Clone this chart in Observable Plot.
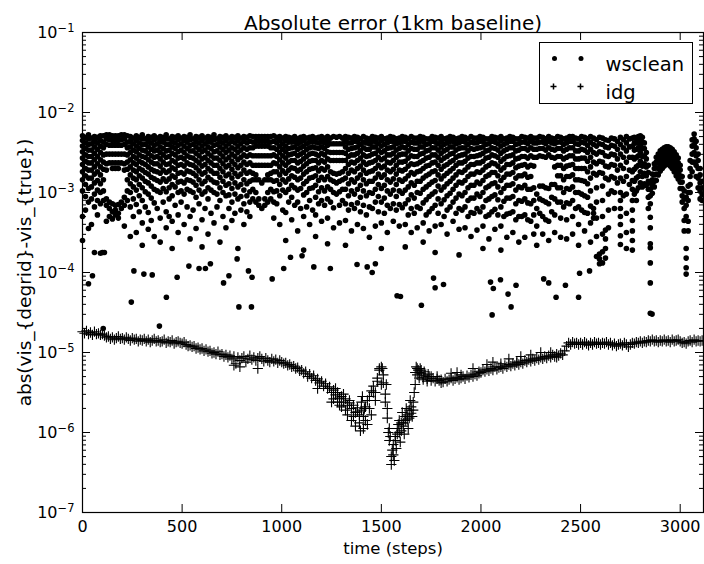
<!DOCTYPE html>
<html>
<head>
<meta charset="utf-8">
<script src="https://cdn.jsdelivr.net/npm/d3@7"></script>
<script src="https://cdn.jsdelivr.net/npm/@observablehq/plot@0.6"></script>
<style>
html,body{margin:0;padding:0;background:#fff;}
#wrap{position:relative;width:704px;height:564px;font-family:"DejaVu Sans",sans-serif;}
#legendBox{position:absolute;left:539px;top:42px;width:154px;height:62px;border:1.3px solid #000;box-sizing:border-box;pointer-events:none;}
</style>
</head>
<body>
<div id="wrap"><div id="legendBox"></div></div>
<script>
const title = "Absolute error (1km baseline)";
const xLabel = "time (steps)";
const yLabel = "abs(vis_{degrid}-vis_{true})";
const seriesNames = ["wsclean", "idg"];
const xTicks = [0, 500, 1000, 1500, 2000, 2500, 3000];
const yDecades = [-7, -6, -5, -4, -3, -2, -1];

// wsclean: columns of log10(error) values read per time step
const wsCols = [
[0,[-2.29,-2.35,-2.42,-2.49,-2.57,-2.65,-2.74,-2.84,-2.98,-3.30,-3.60]],
[15,[-2.31,-2.38,-2.45,-2.53,-2.61,-2.70,-2.79,-2.90,-3.05,-3.22]],
[30,[-2.28,-2.33,-2.40,-2.47,-2.55,-2.63,-2.72,-2.82,-2.95,-3.12,-3.45]],
[45,[-2.32,-2.39,-2.47,-2.55,-2.63,-2.72,-2.82,-2.93,-3.08,-3.40]],
[60,[-2.30,-2.36,-2.43,-2.51,-2.59,-2.68,-2.77,-2.88,-3.02,-3.18,-3.75]],
[75,[-2.31,-2.38,-2.46,-2.55,-2.64,-2.74,-2.85,-2.97,-3.10,-3.28]],
[90,[-2.29,-2.35,-2.42,-2.50,-2.59,-2.68,-2.78,-2.89,-3.00,-3.14,-3.76]],
[105,[-2.29,-2.37,-2.44,-2.53,-2.62,-2.71,-2.84,-2.98,-3.10]],
[120,[-2.28,-2.33,-2.40,-2.52,-2.64,-2.72,-3.08,-3.16,-3.36]],
[135,[-2.28,-2.34,-2.41,-2.52,-2.63,-3.12,-3.20,-3.30]],
[150,[-2.29,-2.35,-2.41,-2.52,-2.63,-2.70,-3.14,-3.24,-3.33]],
[165,[-2.29,-2.35,-2.41,-2.52,-2.63,-2.70,-3.16,-3.22,-3.28]],
[180,[-2.29,-2.35,-2.41,-2.52,-2.63,-2.70,-3.15,-3.26,-3.32]],
[195,[-2.28,-2.34,-2.41,-2.52,-2.63,-3.12,-3.20]],
[210,[-2.28,-2.33,-2.40,-2.52,-2.64,-2.72,-3.06,-3.16,-3.42]],
[225,[-2.29,-2.37,-2.44,-2.53,-2.62,-2.71,-2.84,-2.98,-3.10]],
[240,[-2.30,-2.36,-2.43,-2.50,-2.59,-2.68,-2.78,-2.89,-3.00,-3.18,-3.55]],
[255,[-2.32,-2.39,-2.47,-2.55,-2.63,-2.72,-2.82,-2.93,-3.08,-3.30]],
[270,[-2.29,-2.35,-2.42,-2.49,-2.57,-2.65,-2.74,-2.84,-2.97,-3.15,-3.50]],
[285,[-2.31,-2.38,-2.45,-2.53,-2.61,-2.70,-2.79,-2.90,-3.04,-3.24]],
[300,[-2.28,-2.33,-2.40,-2.47,-2.55,-2.63,-2.72,-2.82,-2.94,-3.10,-3.38,-3.66]],
[315,[-2.33,-2.40,-2.48,-2.56,-2.65,-2.75,-2.86,-2.99,-3.18]],
[330,[-2.30,-2.36,-2.43,-2.51,-2.59,-2.68,-2.77,-2.88,-3.02,-3.25,-3.46]],
[345,[-2.31,-2.38,-2.46,-2.54,-2.62,-2.71,-2.81,-2.92,-3.07,-3.35]],
[360,[-2.29,-2.34,-2.41,-2.48,-2.56,-2.64,-2.73,-2.83,-2.96,-3.13,-3.55]],
[375,[-2.32,-2.39,-2.47,-2.55,-2.64,-2.74,-2.85,-2.98,-3.20]],
[390,[-2.30,-2.36,-2.43,-2.50,-2.58,-2.67,-2.76,-2.87,-3.00,-3.32,-3.62]],
[405,[-2.31,-2.37,-2.45,-2.53,-2.62,-2.72,-2.83,-2.95,-3.12]],
[420,[-2.28,-2.33,-2.40,-2.48,-2.56,-2.65,-2.75,-2.86,-2.99,-3.24,-3.44]],
[435,[-2.33,-2.40,-2.47,-2.55,-2.64,-2.73,-2.83,-2.94,-3.08,-3.30]],
[450,[-2.30,-2.36,-2.43,-2.51,-2.60,-2.69,-2.79,-2.90,-3.04,-3.36,-3.70]],
[465,[-2.31,-2.38,-2.45,-2.53,-2.62,-2.71,-2.81,-2.93,-3.16]],
[480,[-2.29,-2.34,-2.41,-2.49,-2.57,-2.66,-2.76,-2.87,-3.00,-3.28,-3.50]],
[495,[-2.32,-2.39,-2.47,-2.56,-2.65,-2.75,-2.86,-2.98,-3.12]],
[510,[-2.30,-2.35,-2.42,-2.50,-2.58,-2.67,-2.77,-2.88,-3.02,-3.40]],
[525,[-2.31,-2.37,-2.45,-2.54,-2.63,-2.73,-2.84,-2.96,-3.18]],
[540,[-2.28,-2.34,-2.41,-2.48,-2.56,-2.65,-2.74,-2.85,-2.98,-3.30,-3.58]],
[555,[-2.33,-2.40,-2.48,-2.57,-2.66,-2.76,-2.87,-3.00,-3.22]],
[570,[-2.30,-2.36,-2.43,-2.51,-2.60,-2.69,-2.79,-2.91,-3.06,-3.45]],
[585,[-2.31,-2.38,-2.46,-2.54,-2.63,-2.73,-2.84,-2.97,-3.14]],
[600,[-2.29,-2.35,-2.42,-2.49,-2.58,-2.67,-2.77,-2.89,-3.02,-3.34,-3.68]],
[615,[-2.32,-2.39,-2.47,-2.56,-2.65,-2.75,-2.86,-2.99,-3.20]],
[630,[-2.30,-2.36,-2.43,-2.51,-2.60,-2.70,-2.81,-2.94,-3.08,-3.52]],
[645,[-2.31,-2.37,-2.45,-2.54,-2.63,-2.73,-2.84,-2.97,-3.26]],
[660,[-2.28,-2.34,-2.41,-2.49,-2.57,-2.66,-2.76,-2.87,-3.00,-3.38]],
[675,[-2.33,-2.40,-2.48,-2.57,-2.66,-2.76,-2.88,-3.02,-3.18]],
[690,[-2.30,-2.36,-2.43,-2.51,-2.60,-2.70,-2.81,-2.94,-3.10,-3.62]],
[705,[-2.31,-2.38,-2.46,-2.55,-2.64,-2.74,-2.86,-3.00,-3.30]],
[720,[-2.29,-2.35,-2.42,-2.50,-2.59,-2.68,-2.79,-2.91,-3.04,-3.44]],
[735,[-2.32,-2.39,-2.47,-2.56,-2.66,-2.77,-2.89,-3.03,-3.20]],
[750,[-2.30,-2.36,-2.44,-2.52,-2.61,-2.71,-2.82,-2.95,-3.12,-3.35]],
[765,[-2.31,-2.38,-2.46,-2.55,-2.65,-2.76,-2.88,-3.02,-3.26]],
[780,[-2.29,-2.35,-2.42,-2.50,-2.59,-2.69,-2.80,-2.93,-3.08,-3.70]],
[795,[-2.32,-2.39,-2.47,-2.56,-2.66,-2.77,-2.90,-3.05,-3.22]],
[810,[-2.30,-2.36,-2.44,-2.53,-2.62,-2.72,-2.84,-2.97,-3.14,-3.40]],
[825,[-2.31,-2.38,-2.46,-2.55,-2.65,-2.76,-2.89,-3.04,-3.24]],
[840,[-2.29,-2.36,-2.44,-2.53,-2.63,-2.74,-2.86,-2.99,-3.12,-3.30]],
[855,[-2.30,-2.37,-2.44,-2.54,-2.66,-2.76,-2.84,-2.96,-3.08]],
[870,[-2.30,-2.36,-2.42,-2.54,-2.66,-2.78,-2.84,-3.00,-3.12]],
[885,[-2.30,-2.36,-2.42,-2.54,-2.66,-2.84,-3.08,-3.16]],
[900,[-2.30,-2.36,-2.42,-2.54,-2.66,-2.88,-3.20]],
[915,[-2.30,-2.36,-2.42,-2.54,-2.66,-2.84,-3.08,-3.16]],
[930,[-2.30,-2.36,-2.42,-2.54,-2.66,-2.78,-2.84,-3.00,-3.12]],
[945,[-2.30,-2.37,-2.44,-2.54,-2.66,-2.76,-2.84,-2.96,-3.08]],
[960,[-2.29,-2.36,-2.44,-2.53,-2.63,-2.74,-2.86,-2.99,-3.12,-3.32]],
[975,[-2.31,-2.38,-2.46,-2.55,-2.64,-2.74,-2.85,-2.98,-3.14]],
[990,[-2.30,-2.35,-2.42,-2.50,-2.59,-2.68,-2.78,-2.90,-3.04,-3.40]],
[1005,[-2.32,-2.39,-2.46,-2.54,-2.63,-2.73,-2.84,-2.97,-3.22]],
[1020,[-2.30,-2.35,-2.42,-2.49,-2.57,-2.66,-2.76,-2.87,-3.00,-3.25,-3.60]],
[1035,[-2.31,-2.37,-2.45,-2.53,-2.62,-2.72,-2.83,-2.96,-3.12]],
[1050,[-2.32,-2.37,-2.44,-2.52,-2.60,-2.69,-2.79,-2.91,-3.06,-3.34]],
[1065,[-2.30,-2.36,-2.43,-2.51,-2.60,-2.70,-2.81,-2.94,-3.16]],
[1080,[-2.33,-2.39,-2.46,-2.54,-2.63,-2.73,-2.84,-2.97,-3.12,-3.48]],
[1095,[-2.31,-2.37,-2.44,-2.52,-2.61,-2.71,-2.82,-2.95,-3.20]],
[1110,[-2.30,-2.35,-2.42,-2.50,-2.58,-2.67,-2.77,-2.89,-3.03,-3.30,-3.72]],
[1125,[-2.32,-2.39,-2.46,-2.55,-2.64,-2.74,-2.86,-3.00,-3.18]],
[1140,[-2.31,-2.37,-2.44,-2.52,-2.61,-2.71,-2.82,-2.95,-3.10,-3.40]],
[1155,[-2.30,-2.36,-2.43,-2.51,-2.60,-2.70,-2.81,-2.94,-3.22]],
[1170,[-2.32,-2.37,-2.44,-2.52,-2.60,-2.69,-2.79,-2.91,-3.06,-3.28,-3.55]],
[1185,[-2.31,-2.38,-2.45,-2.54,-2.63,-2.73,-2.85,-2.99,-3.14]],
[1200,[-2.30,-2.36,-2.43,-2.51,-2.60,-2.70,-2.81,-2.94,-3.10,-3.36]],
[1215,[-2.32,-2.38,-2.45,-2.53,-2.62,-2.72,-2.84,-2.98,-3.16]],
[1230,[-2.30,-2.35,-2.41,-2.49,-2.58,-2.68,-2.80,-2.93,-3.08,-3.32,-3.64]],
[1245,[-2.32,-2.39,-2.50,-2.60,-2.74,-2.84,-2.96,-3.12]],
[1260,[-2.30,-2.39,-2.50,-2.60,-2.76,-2.86,-3.00,-3.19,-3.44]],
[1275,[-2.31,-2.39,-2.50,-2.60,-2.77,-2.88,-3.02]],
[1290,[-2.30,-2.39,-2.50,-2.60,-2.76,-2.86,-2.99,-3.16,-3.38]],
[1305,[-2.32,-2.39,-2.50,-2.60,-2.74,-2.84,-2.96,-3.10]],
[1320,[-2.30,-2.36,-2.43,-2.51,-2.60,-2.70,-2.82,-2.96,-3.14,-3.35,-3.66]],
[1335,[-2.31,-2.38,-2.46,-2.55,-2.65,-2.76,-2.89,-3.04,-3.22]],
[1350,[-2.32,-2.38,-2.45,-2.53,-2.62,-2.72,-2.84,-2.98,-3.15,-3.48]],
[1365,[-2.30,-2.36,-2.44,-2.53,-2.63,-2.74,-2.87,-3.02,-3.20]],
[1380,[-2.31,-2.36,-2.43,-2.51,-2.60,-2.70,-2.82,-2.96,-3.13,-3.40]],
[1395,[-2.33,-2.40,-2.48,-2.57,-2.67,-2.78,-2.91,-3.06,-3.24]],
[1410,[-2.30,-2.37,-2.44,-2.53,-2.62,-2.72,-2.84,-2.98,-3.16,-3.45]],
[1425,[-2.32,-2.38,-2.46,-2.55,-2.65,-2.76,-2.89,-3.04,-3.28]],
[1440,[-2.33,-2.39,-2.46,-2.54,-2.63,-2.74,-2.86,-3.00,-3.18,-3.56]],
[1455,[-2.30,-2.36,-2.43,-2.52,-2.62,-2.73,-2.86,-3.01,-3.20]],
[1470,[-2.31,-2.36,-2.43,-2.51,-2.60,-2.70,-2.82,-2.96,-3.12,-3.42]],
[1485,[-2.32,-2.39,-2.47,-2.56,-2.66,-2.77,-2.90,-3.05,-3.24]],
[1500,[-2.30,-2.35,-2.42,-2.50,-2.59,-2.69,-2.81,-2.95,-3.12,-3.38,-3.70]],
[1515,[-2.33,-2.40,-2.48,-2.57,-2.67,-2.78,-2.91,-3.07,-3.26]],
[1530,[-2.32,-2.38,-2.45,-2.53,-2.62,-2.72,-2.84,-2.98,-3.16,-3.50]],
[1545,[-2.30,-2.36,-2.44,-2.53,-2.63,-2.74,-2.87,-3.02,-3.20]],
[1560,[-2.31,-2.36,-2.43,-2.51,-2.60,-2.71,-2.83,-2.97,-3.14,-3.36]],
[1575,[-2.33,-2.39,-2.47,-2.56,-2.66,-2.77,-2.90,-3.05,-3.22]],
[1590,[-2.32,-2.38,-2.45,-2.53,-2.62,-2.72,-2.84,-2.98,-3.15,-3.42]],
[1605,[-2.30,-2.36,-2.43,-2.52,-2.62,-2.73,-2.86,-3.01,-3.19]],
[1620,[-2.31,-2.36,-2.44,-2.52,-2.61,-2.71,-2.83,-2.97,-3.14,-3.40,-3.68]],
[1635,[-2.33,-2.40,-2.48,-2.57,-2.67,-2.79,-2.93,-3.09,-3.28]],
[1650,[-2.30,-2.37,-2.45,-2.54,-2.64,-2.75,-2.88,-3.03,-3.20,-3.50]],
[1665,[-2.32,-2.38,-2.46,-2.55,-2.65,-2.77,-2.91,-3.07,-3.26]],
[1680,[-2.32,-2.38,-2.46,-2.55,-2.64,-2.74,-2.86,-3.00,-3.18,-3.44]],
[1695,[-2.30,-2.36,-2.43,-2.52,-2.62,-2.73,-2.86,-3.01,-3.20]],
[1710,[-2.31,-2.36,-2.43,-2.51,-2.60,-2.70,-2.82,-2.96,-3.13,-3.38,-3.62]],
[1725,[-2.33,-2.40,-2.48,-2.57,-2.67,-2.79,-2.93,-3.09,-3.28]],
[1740,[-2.33,-2.39,-2.47,-2.56,-2.66,-2.77,-2.90,-3.05,-3.24,-3.48]],
[1755,[-2.30,-2.36,-2.44,-2.53,-2.63,-2.74,-2.87,-3.02,-3.20]],
[1770,[-2.31,-2.37,-2.44,-2.53,-2.62,-2.73,-2.85,-2.99,-3.16,-3.42,-3.75]],
[1785,[-2.32,-2.39,-2.47,-2.56,-2.66,-2.78,-2.92,-3.08,-3.26]],
[1800,[-2.30,-2.36,-2.43,-2.51,-2.60,-2.71,-2.83,-2.97,-3.14,-3.40]],
[1815,[-2.33,-2.40,-2.48,-2.57,-2.67,-2.79,-2.93,-3.09,-3.30]],
[1830,[-2.32,-2.38,-2.46,-2.55,-2.65,-2.76,-2.89,-3.04,-3.22,-3.52]],
[1845,[-2.30,-2.36,-2.43,-2.52,-2.62,-2.73,-2.86,-3.01,-3.18]],
[1860,[-2.31,-2.36,-2.43,-2.51,-2.60,-2.70,-2.82,-2.96,-3.12,-3.36]],
[1875,[-2.33,-2.39,-2.47,-2.56,-2.66,-2.78,-2.91,-3.07,-3.26]],
[1890,[-2.32,-2.38,-2.45,-2.54,-2.63,-2.74,-2.87,-3.02,-3.20,-3.46,-3.78]],
[1905,[-2.30,-2.36,-2.44,-2.53,-2.63,-2.75,-2.88,-3.04,-3.22]],
[1920,[-2.31,-2.37,-2.44,-2.52,-2.61,-2.72,-2.85,-3.00,-3.18,-3.44]],
[1935,[-2.33,-2.40,-2.48,-2.57,-2.68,-2.80,-2.94,-3.10,-3.30]],
[1950,[-2.30,-2.37,-2.45,-2.55,-2.65,-2.77,-2.91,-3.07,-3.25,-3.55]],
[1965,[-2.32,-2.38,-2.46,-2.55,-2.65,-2.77,-2.91,-3.07,-3.26]],
[1980,[-2.32,-2.38,-2.45,-2.54,-2.63,-2.74,-2.87,-3.02,-3.20,-3.47]],
[1995,[-2.30,-2.36,-2.44,-2.53,-2.63,-2.75,-2.89,-3.05,-3.24]],
[2010,[-2.31,-2.36,-2.43,-2.51,-2.61,-2.72,-2.85,-3.00,-3.18,-3.42,-3.70]],
[2025,[-2.33,-2.40,-2.48,-2.57,-2.68,-2.80,-2.94,-3.10,-3.30]],
[2040,[-2.33,-2.39,-2.47,-2.56,-2.66,-2.78,-2.92,-3.08,-3.28,-3.58]],
[2055,[-2.30,-2.36,-2.44,-2.53,-2.63,-2.75,-2.89,-3.05,-3.24]],
[2070,[-2.31,-2.37,-2.45,-2.54,-2.64,-2.75,-2.88,-3.03,-3.21,-3.46]],
[2085,[-2.32,-2.39,-2.47,-2.56,-2.67,-2.79,-2.93,-3.09,-3.28]],
[2100,[-2.30,-2.35,-2.42,-2.51,-2.61,-2.72,-2.85,-3.00,-3.18,-3.42,-3.72]],
[2115,[-2.33,-2.40,-2.48,-2.58,-2.69,-2.81,-2.95,-3.11,-3.30]],
[2130,[-2.32,-2.38,-2.46,-2.55,-2.65,-2.77,-2.91,-3.07,-3.27,-3.56]],
[2145,[-2.30,-2.36,-2.44,-2.54,-2.65,-2.77,-2.91,-3.07,-3.26]],
[2160,[-2.31,-2.36,-2.44,-2.53,-2.63,-2.75,-2.89,-3.05,-3.24,-3.50]],
[2175,[-2.33,-2.40,-2.48,-2.58,-2.69,-2.82,-2.97,-3.14,-3.34]],
[2190,[-2.33,-2.39,-2.47,-2.57,-2.67,-2.79,-2.93,-3.10,-3.30,-3.62]],
[2205,[-2.30,-2.37,-2.45,-2.55,-2.66,-2.79,-2.94,-3.11,-3.30]],
[2220,[-2.31,-2.37,-2.45,-2.55,-2.65,-2.77,-2.91,-3.08,-3.28,-3.56]],
[2235,[-2.32,-2.39,-2.47,-2.57,-2.68,-2.81,-2.96,-3.13,-3.34]],
[2250,[-2.30,-2.36,-2.44,-2.54,-2.66,-2.80,-2.96,-3.14,-3.36]],
[2265,[-2.32,-2.38,-2.46,-2.56,-2.67,-2.94,-3.10,-3.28,-3.52]],
[2280,[-2.32,-2.38,-2.46,-2.56,-3.02,-3.20,-3.42,-3.66]],
[2295,[-2.30,-2.37,-2.45,-2.54,-2.92,-3.08,-3.26]],
[2310,[-2.31,-2.37,-2.45,-2.55,-2.92,-3.10,-3.30,-3.52]],
[2325,[-2.33,-2.39,-2.47,-2.56,-2.94,-3.12,-3.34]],
[2340,[-2.30,-2.36,-2.44,-2.53,-2.95,-3.14,-3.36,-3.60]],
[2355,[-2.32,-2.38,-2.46,-2.56,-2.90,-3.06,-3.24]],
[2370,[-2.33,-2.39,-2.47,-2.57,-2.68,-2.90,-3.08,-3.28,-3.50]],
[2385,[-2.30,-2.37,-2.45,-2.55,-2.66,-2.79,-2.94,-3.12]],
[2400,[-2.31,-2.37,-2.45,-2.55,-2.66,-2.79,-2.94,-3.12,-3.32,-3.56]],
[2415,[-2.33,-2.40,-2.48,-2.58,-2.70,-2.84,-3.00,-3.18]],
[2430,[-2.32,-2.38,-2.46,-2.56,-2.67,-2.80,-2.95,-3.13,-3.34,-3.58]],
[2445,[-2.30,-2.36,-2.44,-2.54,-2.66,-2.80,-2.96,-3.14]],
[2460,[-2.30,-2.36,-2.44,-2.54,-2.65,-2.78,-2.93,-3.10,-3.30,-3.52]],
[2475,[-2.32,-2.39,-2.48,-2.58,-2.70,-2.84,-3.00,-3.20]],
[2490,[-2.33,-2.40,-2.48,-2.58,-2.70,-2.84,-3.00,-3.18,-3.40,-3.66]],
[2505,[-2.30,-2.37,-2.46,-2.57,-2.70,-2.85,-3.02,-3.22]],
[2520,[-2.31,-2.38,-2.47,-2.57,-2.70,-2.86,-3.04,-3.25,-3.48]],
[2535,[-2.33,-2.41,-2.50,-2.61,-2.74,-2.89,-3.06,-3.26]],
[2550,[-2.30,-2.37,-2.46,-2.56,-2.68,-2.82,-2.98,-3.17,-3.38,-3.62]],
[2565,[-2.32,-2.40,-2.50,-2.62,-2.76,-3.20,-3.26,-3.32]],
[2580,[-2.34,-2.42,-2.52,-2.64,-2.78,-2.94,-3.12,-3.32,-3.55,-3.80]],
[2595,[-2.31,-2.39,-2.49,-2.61,-2.75,-3.77,-3.83,-3.89]],
[2610,[-2.32,-2.40,-2.50,-2.62,-2.76,-2.92,-3.10,-3.30,-3.52,-3.74,-3.88]],
[2625,[-2.34,-2.43,-2.54,-2.67,-2.82,-3.47,-3.58,-3.70,-3.82]],
[2640,[-2.35,-2.44,-2.55,-2.68,-2.84,-3.02,-3.22,-3.44]],
[2655,[-2.32,-2.41,-2.52,-2.65,-2.80,-2.98]],
[2670,[-2.33,-2.42,-2.53,-2.66,-2.82,-3.00,-3.20]],
[2685,[-2.36,-2.46,-2.58,-2.72,-2.88]],
[2700,[-2.31,-2.40,-2.52,-2.66,-2.82,-3.00,-3.10,-3.20,-3.30,-3.40,-3.54,-3.65]],
[2715,[-2.34,-2.44,-2.56,-2.70,-2.86,-3.04]],
[2730,[-2.30,-2.38,-2.48,-2.62,-2.80,-3.02,-3.26,-3.50,-3.70]],
[2745,[-2.33,-2.43,-2.56,-2.72,-2.90]],
[2760,[-2.32,-2.42,-2.56,-2.74,-2.85,-2.96,-3.10,-3.22,-3.35,-3.48,-3.60,-3.72]],
[2770,[-2.31,-2.38,-2.47,-2.58,-2.71,-2.86,-3.02]],
[2780,[-2.32,-2.38,-2.46,-2.56,-2.68,-2.82,-2.98,-3.10]],
[2790,[-2.30,-2.36,-2.44,-2.54,-2.66,-2.80,-2.94]],
[2800,[-2.29,-2.34,-2.41,-2.50,-2.61,-2.74,-2.88]],
[2810,[-2.31,-2.37,-2.45,-2.55,-2.67,-2.80,-2.93]],
[2820,[-2.38,-2.45,-2.54,-2.64,-2.76,-2.89]],
[2830,[-2.50,-2.58,-2.68,-2.79,-2.91]],
[2840,[-2.66,-2.75,-2.86,-2.96,-3.06,-3.20]],
[2850,[-2.88,-2.96,-3.04,-3.14,-3.31,-3.44,-3.64,-3.69,-3.88,-4.13,-4.51]],
[2860,[-2.77,-2.84,-2.92,-3.01]],
[2870,[-2.64,-2.70,-2.78,-2.86,-2.93]],
[2880,[-2.56,-2.62,-2.69,-2.77,-2.85]],
[2890,[-2.52,-2.57,-2.63,-2.70,-2.78]],
[2900,[-2.48,-2.53,-2.59,-2.66,-2.73]],
[2910,[-2.46,-2.51,-2.57,-2.63,-2.70]],
[2920,[-2.44,-2.49,-2.55,-2.61,-2.67]],
[2930,[-2.43,-2.48,-2.54,-2.60,-2.65]],
[2940,[-2.43,-2.48,-2.54,-2.59,-2.65]],
[2950,[-2.44,-2.49,-2.55,-2.61,-2.67]],
[2960,[-2.46,-2.51,-2.57,-2.63,-2.70]],
[2970,[-2.49,-2.54,-2.60,-2.67,-2.74]],
[2980,[-2.53,-2.58,-2.64,-2.71,-2.79]],
[2990,[-2.57,-2.63,-2.69,-2.76,-2.83]],
[3000,[-2.66,-2.72,-2.79,-2.87,-2.95]],
[3010,[-2.80,-2.87,-2.95,-3.04,-3.12]],
[3020,[-2.98,-3.08,-3.20,-3.35,-3.48]],
[3030,[-3.06,-3.16,-3.30,-3.70,-3.82,-3.94,-4.02]],
[3040,[-2.92,-3.00,-3.10,-3.36,-3.48]],
[3050,[-2.60,-2.70,-2.80,-2.90,-3.00]],
[3060,[-2.34,-2.42,-2.52,-2.62,-2.74]],
[3070,[-2.27,-2.33,-2.40,-2.50,-2.62]],
[3080,[-2.36,-2.44,-2.54,-2.66,-2.80]],
[3090,[-2.52,-2.60,-2.70,-2.82,-2.94]],
[3100,[-2.70,-2.78,-2.88,-2.98,-3.08]],
[3110,[-2.86,-2.94,-3.02,-3.10]]
];
// wsclean: isolated low points [time, log10(error)]
const wsLow = [[30,-4.14],[50,-4.04],[104,-4.70],[100,-3.75],[110,-3.75],[245,-4.37],[258,-3.98],[308,-4.02],[350,-4.03],[386,-4.67],[421,-4.31],[475,-4.06],[534,-3.92],[585,-3.95],[617,-3.95],[642,-3.89],[708,-4.13],[735,-4.04],[776,-3.83],[785,-4.43],[833,-3.98],[848,-4.43],[851,-4.06],[952,-4.08],[1010,-3.95],[1044,-3.81],[1102,-3.79],[1161,-3.93],[1244,-3.95],[1378,-3.90],[1429,-3.93],[1454,-4.00],[1470,-3.89],[1579,-4.29],[1596,-4.30],[1701,-4.41],[1762,-4.07],[1770,-4.19],[1812,-4.15],[2048,-4.12],[2056,-4.53],[2062,-4.20],[2098,-4.09],[2136,-4.27],[2151,-4.43],[2176,-4.16],[2315,-4.08],[2340,-4.13],[2377,-4.31],[2424,-4.16],[2490,-4.31],[2495,-4.01],[2545,-3.98],[2859,-4.52]];

// idg: log10(error) every idgStep time steps starting at 0
const idgStep = 10;
const idgLog = [
-4.74,-4.76,-4.73,-4.77,-4.75,-4.78,-4.74,-4.77,-4.76,-4.78,
-4.77,-4.79,-4.81,-4.80,-4.83,-4.81,-4.84,-4.82,-4.80,-4.83,
-4.82,-4.84,-4.81,-4.83,-4.85,-4.82,-4.84,-4.83,-4.86,-4.84,
-4.85,-4.83,-4.86,-4.84,-4.87,-4.85,-4.83,-4.86,-4.85,-4.87,
-4.86,-4.84,-4.88,-4.86,-4.87,-4.85,-4.89,-4.87,-4.86,-4.88,
-4.89,-4.87,-4.90,-4.92,-4.91,-4.93,-4.92,-4.95,-4.94,-4.96,
-4.95,-4.98,-4.96,-4.99,-4.98,-5.01,-5.00,-5.02,-4.99,-5.03,
-5.02,-5.05,-5.03,-5.06,-5.04,-5.08,-5.05,-5.14,-5.06,-5.10,
-5.07,-5.05,-5.12,-5.08,-5.04,-5.09,-5.06,-5.10,-5.07,-5.05,
-5.08,-5.11,-5.07,-5.10,-5.12,-5.08,-5.11,-5.09,-5.13,-5.10,
-5.12,-5.14,-5.13,-5.16,-5.15,-5.18,-5.17,-5.20,-5.19,-5.23,
-5.22,-5.26,-5.24,-5.30,-5.27,-5.32,-5.29,-5.35,-5.33,-5.38,
-5.36,-5.42,-5.39,-5.45,-5.43,-5.50,-5.47,-5.53,-5.50,-5.57,
-5.55,-5.62,-5.58,-5.66,-5.63,-5.70,-5.66,-5.75,-5.69,-5.78,
-5.72,-5.80,-5.68,-5.60,-5.55,-5.48,-5.42,-5.50,-5.36,-5.22,
-5.18,-5.38,-5.52,-5.70,-5.95,-6.30,-6.15,-6.05,-5.95,-6.00,
-5.88,-5.92,-5.80,-5.84,-5.72,-5.76,-5.62,-5.25,-5.28,-5.32,
-5.26,-5.31,-5.29,-5.33,-5.30,-5.35,-5.32,-5.36,-5.33,-5.35,
-5.34,-5.37,-5.33,-5.36,-5.34,-5.32,-5.35,-5.33,-5.31,-5.34,
-5.32,-5.30,-5.33,-5.29,-5.31,-5.28,-5.30,-5.27,-5.29,-5.26,
-5.25,-5.22,-5.24,-5.21,-5.23,-5.20,-5.22,-5.18,-5.21,-5.19,
-5.18,-5.20,-5.16,-5.18,-5.15,-5.17,-5.14,-5.16,-5.13,-5.15,
-5.12,-5.14,-5.10,-5.12,-5.09,-5.11,-5.08,-5.10,-5.07,-5.09,
-5.06,-5.08,-5.05,-5.07,-5.04,-5.06,-5.03,-5.05,-5.02,-5.04,
-5.01,-5.03,-4.98,-4.92,-4.88,-4.90,-4.87,-4.89,-4.88,-4.90,
-4.88,-4.90,-4.87,-4.89,-4.91,-4.88,-4.90,-4.87,-4.89,-4.88,
-4.90,-4.88,-4.89,-4.87,-4.90,-4.88,-4.91,-4.89,-4.92,-4.90,
-4.89,-4.91,-4.88,-4.90,-4.93,-4.90,-4.88,-4.89,-4.87,-4.88,
-4.86,-4.88,-4.86,-4.87,-4.85,-4.86,-4.84,-4.86,-4.85,-4.87,
-4.85,-4.86,-4.84,-4.86,-4.85,-4.87,-4.84,-4.86,-4.85,-4.84,
-4.86,-4.88,-4.87,-4.89,-4.86,-4.85,-4.87,-4.84,-4.86,-4.85,
-4.86,-4.85
];
// idg: extra scattered points [time, log10(error)]
const idgExtra = [[760,-5.16],[790,-5.18],[880,-5.20],[1180,-5.45],[1250,-5.62],[1260,-5.58],[1270,-5.45],[1280,-5.62],[1290,-5.66],[1300,-5.68],[1310,-5.52],[1320,-5.72],[1330,-5.78],[1340,-5.60],[1350,-5.85],[1360,-5.80],[1370,-5.92],[1380,-5.74],[1390,-5.88],[1395,-5.98],[1400,-5.62],[1405,-5.55],[1410,-5.95],[1415,-5.70],[1420,-5.85],[1430,-5.90],[1440,-5.70],[1450,-5.78],[1460,-5.50],[1470,-5.60],[1480,-5.32],[1490,-5.20],[1500,-5.40],[1505,-5.20],[1510,-5.28],[1520,-5.62],[1525,-5.40],[1530,-5.82],[1535,-6.00],[1540,-6.10],[1545,-6.05],[1550,-6.40],[1555,-6.22],[1560,-6.28],[1565,-6.35],[1570,-6.10],[1575,-6.20],[1580,-6.02],[1585,-5.90],[1590,-5.85],[1595,-6.12],[1600,-5.98],[1605,-5.75],[1610,-5.88],[1615,-6.02],[1620,-5.85],[1625,-5.70],[1630,-5.78],[1635,-5.95],[1640,-5.82],[1645,-5.60],[1650,-5.68],[1655,-5.80],[1660,-5.72],[1665,-5.50],[1670,-5.40],[1675,-5.18],[1680,-5.20],[1685,-5.22],[1690,-5.25],[1695,-5.20],[1700,-5.22],[1710,-5.34],[1715,-5.24],[1730,-5.36],[1735,-5.27],[1750,-5.30],[1780,-5.30],[1800,-5.38],[1850,-5.26],[1880,-5.25],[1900,-5.28],[1960,-5.20],[1990,-5.24],[2030,-5.15],[2060,-5.12],[2100,-5.14],[2140,-5.08],[2180,-5.12],[2200,-5.05],[2250,-5.03],[2300,-5.00],[2350,-5.00],[2380,-5.06]];

const wsclean = [
  ...wsCols.flatMap(([t, Ls]) => Ls.map(L => ({t, v: Math.pow(10, L)}))),
  ...wsLow.map(([t, L]) => ({t, v: Math.pow(10, L)}))
];
const idg = [
  ...idgLog.map((L, i) => ({t: i * idgStep, v: Math.pow(10, L)})),
  ...idgExtra.map(([t, L]) => ({t, v: Math.pow(10, L)}))
];

const yMajor = yDecades.map(e => Math.pow(10, e));
const yMinor = yDecades.slice(0, -1).flatMap(e => [2,3,4,5,6,7,8,9].map(k => k * Math.pow(10, e)));

const W = 704, H = 564, mL = 82, mR = 1, mT = 32, mB = 52;
const fw = W - mL - mR, fh = H - mT - mB;
const major = 8, minor = 4;

const chart = Plot.plot({
  width: W, height: H,
  marginLeft: mL, marginRight: mR, marginTop: mT, marginBottom: mB,
  style: {fontFamily: "DejaVu Sans", fontSize: "16px", color: "black", background: "white"},
  x: {domain: [0, 3117]},
  y: {type: "log", domain: [1e-7, 1e-1]},
  marks: [
    Plot.dot(wsclean, {x: "t", y: "v", r: 2.8, fill: "black", stroke: "none"}),
    Plot.dot(idg, {x: "t", y: "v", symbol: "plus", r: 3.4, stroke: "black", strokeWidth: 1.1}),
    Plot.frame({stroke: "black", strokeWidth: 1.2}),
    Plot.tickX(xTicks, {x: d => d, insetTop: fh - major, stroke: "black"}),
    Plot.tickX(xTicks, {x: d => d, insetBottom: fh - major, stroke: "black"}),
    Plot.tickY(yMajor, {y: d => d, insetRight: fw - major, stroke: "black"}),
    Plot.tickY(yMajor, {y: d => d, insetLeft: fw - major, stroke: "black"}),
    Plot.tickY(yMinor, {y: d => d, insetRight: fw - minor, stroke: "black"}),
    Plot.tickY(yMinor, {y: d => d, insetLeft: fw - minor, stroke: "black"}),
    Plot.axisX({ticks: xTicks, tickSize: 0, tickPadding: 8, tickFormat: d => String(d), fontSize: 16, label: null}),
    Plot.axisY({ticks: yMajor, tickSize: 0, tickPadding: 8, tickFormat: d => String(Math.round(Math.log10(d))), fontSize: 16, label: null}),
    Plot.text([title], {frameAnchor: "top", dy: -17, fontSize: 20}),
    Plot.text([xLabel], {frameAnchor: "bottom", dy: 41, fontSize: 16.5}),
    Plot.text([yLabel], {frameAnchor: "left", dx: -57, rotate: -90, textAnchor: "middle", fontSize: 18.5}),
    Plot.dot([seriesNames[0]], {frameAnchor: "top-left", dx: 472, dy: 26, r: 2.5, fill: "black"}),
    Plot.dot([seriesNames[0]], {frameAnchor: "top-left", dx: 498.5, dy: 26, r: 2.5, fill: "black"}),
    Plot.dot([seriesNames[1]], {frameAnchor: "top-left", dx: 471, dy: 54, symbol: "plus", r: 2.1, stroke: "black"}),
    Plot.dot([seriesNames[1]], {frameAnchor: "top-left", dx: 498, dy: 54, symbol: "plus", r: 2.1, stroke: "black"}),
    Plot.text([seriesNames[0]], {frameAnchor: "top-left", dx: 523, dy: 25, textAnchor: "start", fontSize: 19.5}),
    Plot.text([seriesNames[1]], {frameAnchor: "top-left", dx: 523, dy: 53, textAnchor: "start", fontSize: 19.5})
  ]
});
// render y tick labels as 10 with a raised exponent
const SVGNS = "http://www.w3.org/2000/svg";
chart.querySelectorAll('g[aria-label="y-axis tick label"] text').forEach(t => {
  const e = t.textContent;
  t.textContent = "";
  const base = document.createElementNS(SVGNS, "tspan");
  base.textContent = "10";
  const ex = document.createElementNS(SVGNS, "tspan");
  ex.textContent = e.replace("-", "\u2212");
  ex.setAttribute("dy", "-0.45em");
  ex.setAttribute("font-size", "11.5");
  t.appendChild(base);
  t.appendChild(ex);
});
document.getElementById("wrap").prepend(chart);
</script>
</body>
</html>
